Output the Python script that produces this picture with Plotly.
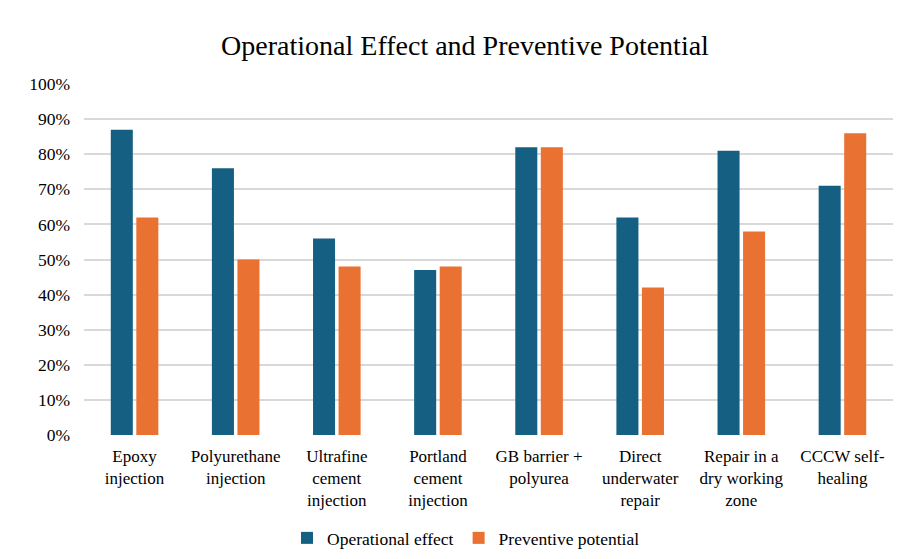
import plotly.graph_objects as go

categories = ["Epoxy<br>injection", "Polyurethane<br>injection", "Ultrafine<br>cement<br>injection",
              "Portland<br>cement<br>injection", "GB barrier +<br>polyurea", "Direct<br>underwater<br>repair",
              "Repair in a<br>dry working<br>zone", "CCCW self-<br>healing"]
operational_effect = [0.87, 0.76, 0.56, 0.47, 0.82, 0.62, 0.81, 0.71]
preventive_potential = [0.62, 0.50, 0.48, 0.48, 0.82, 0.42, 0.58, 0.86]
y_ticks = [i / 10 for i in range(11)]
y_tick_labels = [f"{i*10}%" for i in range(11)]

FONT = "Liberation Serif"

fig = go.Figure()
fig.add_trace(go.Bar(name="Operational effect", x=categories, y=operational_effect,
                     marker=dict(color="#156082", line=dict(width=0))))
fig.add_trace(go.Bar(name="Preventive potential", x=categories, y=preventive_potential,
                     marker=dict(color="#E97132", line=dict(width=0))))

fig.update_layout(
    width=902, height=559,
    margin=dict(l=84, r=9, t=84, b=124),
    paper_bgcolor="white", plot_bgcolor="white",
    barmode="group", bargap=0.495, bargroupgap=0.137,
    font=dict(family=FONT, size=17.5, color="#000000"),
    title=dict(text="Operational Effect and Preventive Potential",
               font=dict(family=FONT, size=28, color="#000000"),
               x=465/902, xanchor="center", xref="container",
               y=1-45/559, yanchor="middle", yref="container"),
    legend=dict(orientation="h", x=466/902, xanchor="center", xref="container",
                y=1-538/559, yanchor="middle", yref="container",
                font=dict(family=FONT, size=17.5), itemwidth=30,
                traceorder="normal", bgcolor="rgba(0,0,0,0)"),
    showlegend=True,
)
fig.update_yaxes(range=[0, 1.0], tickvals=y_ticks, ticktext=y_tick_labels,
                 showgrid=True, gridcolor="#D9D9D9", gridwidth=1.5,
                 zeroline=False, showline=False, ticks="", ticklabelstandoff=13,
                 automargin=False, tickfont=dict(family=FONT, size=17.5))
fig.update_xaxes(showgrid=False, showline=False, ticks="", tickangle=0,
                 ticklabelstandoff=9, automargin=False,
                 tickfont=dict(family=FONT, size=17))

fig.write_html("out.html")
